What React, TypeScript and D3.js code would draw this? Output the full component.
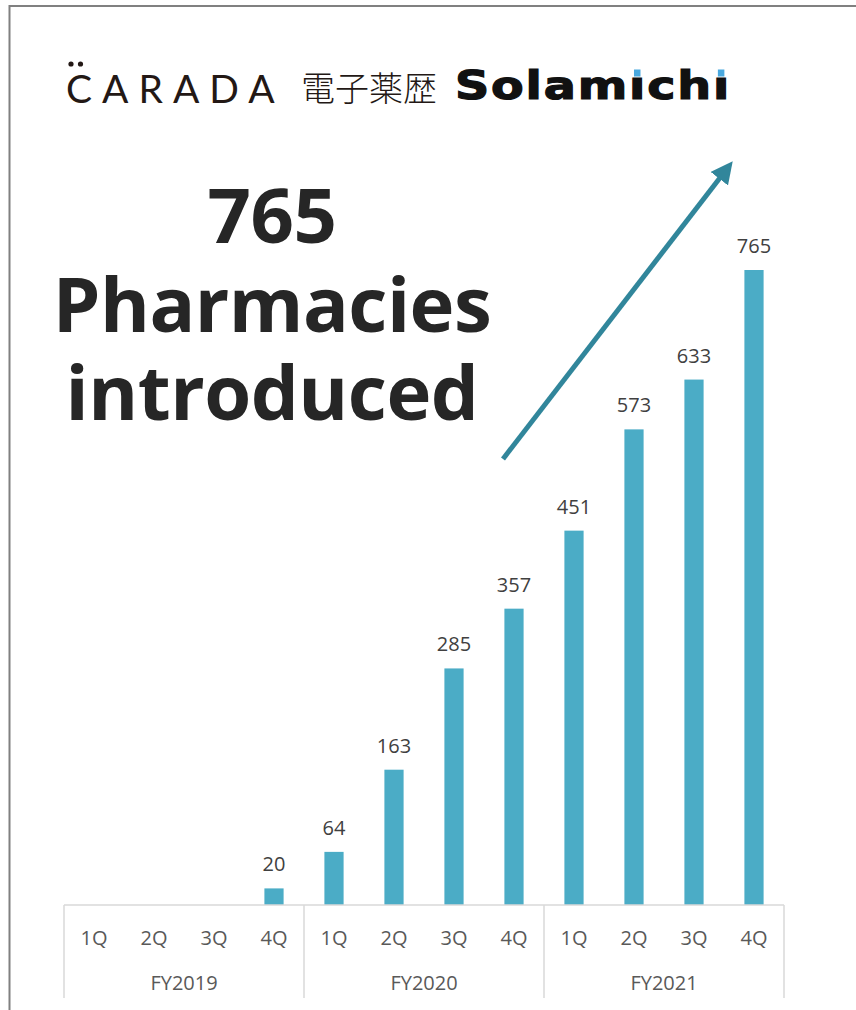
import React, { useEffect, useRef, useState } from 'react';
import * as d3 from 'd3';

const quarters = ['1Q', '2Q', '3Q', '4Q'];
const fiscalYears = ['FY2019', 'FY2020', 'FY2021'];
const pharmacies: (number | null)[] = [null, null, null, 20, 64, 163, 285, 357, 451, 573, 633, 765];
const headline = ['765', 'Pharmacies', 'introduced'];

const W = 856;
const H = 1010;
const BAR = '#4bacc6';
const ARROW = '#31869b';
const SOLA_SX = 1.22;

const App: React.FC = () => {
  const soloRef = useRef<SVGTextElement>(null);
  const [dots, setDots] = useState<number[]>([]);

  // category keys: year + quarter
  const cats = fiscalYears.flatMap((fy) => quarters.map((q) => `${fy}-${q}`));

  const x = d3.scaleBand<string>()
    .domain(cats)
    .range([64, 784])
    .paddingInner(0.68)
    .paddingOuter(0.34);

  const xYear = d3.scaleBand<string>()
    .domain(fiscalYears)
    .range([64, 784])
    .padding(0);

  const y = d3.scaleLinear()
    .domain([0, 765])
    .range([905, 270]);

  const baseY = y(0);

  useEffect(() => {
    const measure = () => {
      const el = soloRef.current;
      if (!el) return;
      // dotless i at index 5 and 8 -> blue squares go above them
      const out: number[] = [];
      [5, 8].forEach((i) => {
        const s = el.getStartPositionOfChar(i).x;
        const e = el.getEndPositionOfChar(i).x;
        out.push((s + e) / 2);
      });
      setDots(out);
    };
    if ((document as any).fonts && (document as any).fonts.ready) {
      (document as any).fonts.ready.then(measure);
    } else {
      measure();
    }
  }, []);

  const dotW = 6.5 / SOLA_SX;

  return (
    <div style={{ position: 'absolute', left: 0, top: 0 }}>
      <svg width={W} height={H} style={{ display: 'block', background: '#fff' }}>
        {/* frame */}
        <line x1={9.5} y1={6} x2={W} y2={6} stroke="#808080" strokeWidth={2} />
        <line x1={9.5} y1={5} x2={9.5} y2={H} stroke="#808080" strokeWidth={2} />

        {/* logo */}
        <circle cx={71} cy={64} r={2.6} fill="#231815" />
        <circle cx={80.5} cy={64} r={2.6} fill="#231815" />
        <text
          x={66}
          y={103}
          fontFamily="Lato, sans-serif"
          fontWeight={400}
          fontSize={39}
          letterSpacing={10}
          fill="#231815"
        >
          CARADA
        </text>
        <text
          x={301}
          y={101}
          fontFamily="'Noto Sans CJK JP', sans-serif"
          fontWeight={300}
          fontSize={34}
          fill="#231815"
        >
          電子薬歴
        </text>
        <g transform={`translate(455,99) scale(${SOLA_SX},1)`}>
          <text
            ref={soloRef}
            x={0}
            y={0}
            fontFamily="'DejaVu Sans', sans-serif"
            fontWeight={700}
            fontSize={39}
            letterSpacing={1.5}
            fill="#111"
            stroke="#111"
            strokeWidth={1.2}
          >
            Solamıchı
          </text>
          {dots.map((cx, i) => (
            <rect key={i} x={cx - 0.75 - dotW / 2} y={-29.5} width={dotW} height={7} fill="#4aa9df" />
          ))}
        </g>

        {/* headline */}
        {headline.map((t, i) => (
          <text
            key={t}
            x={272}
            y={243 + i * 88.5}
            textAnchor="middle"
            fontFamily="'Open Sans', sans-serif"
            fontWeight={700}
            fontSize={76}
            letterSpacing={-0.5}
            fill="#262626"
          >
            {t}
          </text>
        ))}

        {/* bars */}
        {cats.map((c, i) => {
          const v = pharmacies[i];
          if (v == null) return null;
          const bx = x(c)!;
          return (
            <g key={c}>
              <rect
                x={bx}
                y={y(v)}
                width={x.bandwidth()}
                height={baseY - y(v)}
                fill={BAR}
              />
              <text
                x={bx + x.bandwidth() / 2}
                y={y(v) - 17}
                textAnchor="middle"
                fontFamily="'Open Sans', sans-serif"
                fontSize={20}
                fill="#404040"
              >
                {v}
              </text>
            </g>
          );
        })}

        {/* axis */}
        <line x1={64} x2={784} y1={baseY} y2={baseY} stroke="#d9d9d9" strokeWidth={1.5} />
        {[...fiscalYears.map((fy) => xYear(fy)!), 784].map((sx, i) => (
          <line key={i} x1={sx} x2={sx} y1={baseY} y2={998} stroke="#d9d9d9" strokeWidth={1.5} />
        ))}
        {cats.map((c, i) => (
          <text
            key={c}
            x={x(c)! + x.bandwidth() / 2}
            y={945}
            textAnchor="middle"
            fontFamily="'Open Sans', sans-serif"
            fontSize={20}
            fill="#595959"
          >
            {quarters[i % quarters.length]}
          </text>
        ))}
        {fiscalYears.map((fy) => (
          <text
            key={fy}
            x={xYear(fy)! + xYear.bandwidth() / 2}
            y={990}
            textAnchor="middle"
            fontFamily="'Open Sans', sans-serif"
            fontSize={20}
            fill="#595959"
          >
            {fy}
          </text>
        ))}

        {/* growth arrow */}
        <defs>
          <marker
            id="arrowHead"
            viewBox="0 0 10 10"
            refX={5}
            refY={5}
            markerWidth={4.4}
            markerHeight={4.4}
            orient="auto"
          >
            <path d="M0,0 L10,5 L0,10 Z" fill={ARROW} />
          </marker>
        </defs>
        <line
          x1={503}
          y1={459}
          x2={726}
          y2={170}
          stroke={ARROW}
          strokeWidth={5}
          markerEnd="url(#arrowHead)"
        />
      </svg>
    </div>
  );
};

export default App;
